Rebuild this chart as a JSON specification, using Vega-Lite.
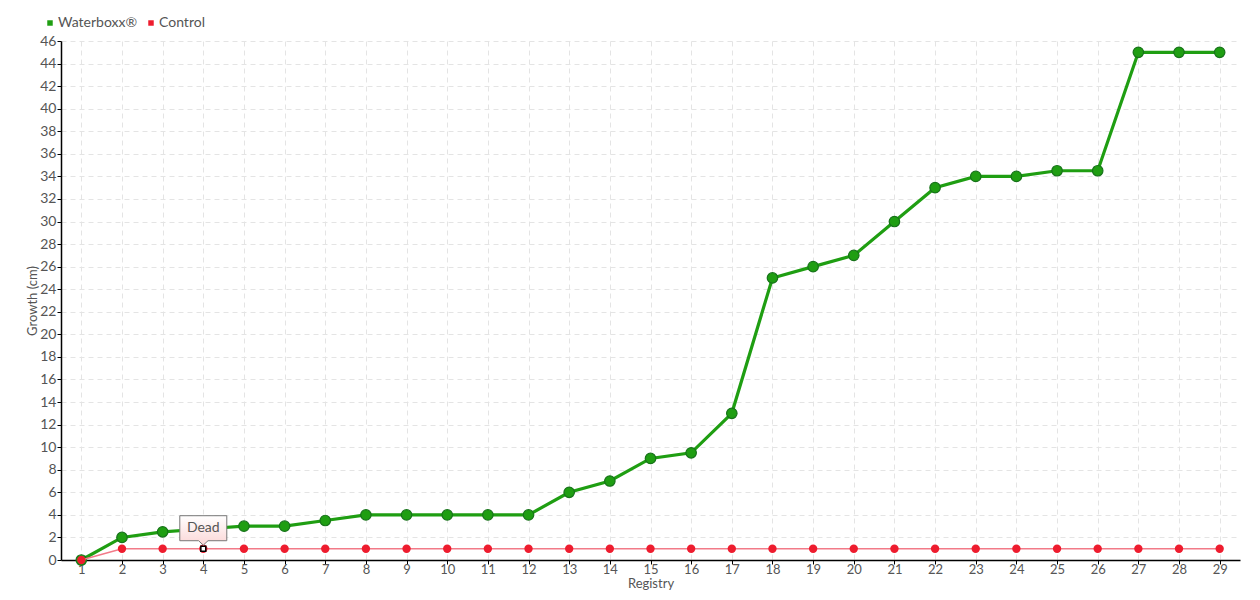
{
  "$schema": "https://vega.github.io/schema/vega-lite/v6.json",
  "width": 1179,
  "height": 519,
  "autosize": {"type": "none"},
  "padding": {"left": 61, "top": 41, "right": 20, "bottom": 40},
  "background": "white",
  "config": {
    "view": {"stroke": null},
    "font": "Lato",
    "axis": {
      "labelFont": "Lato",
      "titleFont": "Lato",
      "labelColor": "#555555",
      "titleColor": "#555555",
      "labelFontSize": 14,
      "titleFontSize": 14,
      "titleFontWeight": "normal",
      "domainColor": "#000000",
      "domainWidth": 1.5,
      "tickColor": "#000000",
      "tickSize": 4,
      "gridColor": "#e4e4e4",
      "gridDash": [5, 4],
      "gridWidth": 1
    },
    "legend": {
      "labelFont": "Lato",
      "labelFontSize": 14,
      "labelColor": "#555555"
    }
  },
  "datasets": {
    "growth": [
      {"Registry": 1, "Growth": 0, "Series": "Waterboxx®", "Status": "Alive"},
      {"Registry": 2, "Growth": 2, "Series": "Waterboxx®", "Status": "Alive"},
      {"Registry": 3, "Growth": 2.5, "Series": "Waterboxx®", "Status": "Alive"},
      {"Registry": 4, "Growth": 2.75, "Series": "Waterboxx®", "Status": "Alive"},
      {"Registry": 5, "Growth": 3, "Series": "Waterboxx®", "Status": "Alive"},
      {"Registry": 6, "Growth": 3, "Series": "Waterboxx®", "Status": "Alive"},
      {"Registry": 7, "Growth": 3.5, "Series": "Waterboxx®", "Status": "Alive"},
      {"Registry": 8, "Growth": 4, "Series": "Waterboxx®", "Status": "Alive"},
      {"Registry": 9, "Growth": 4, "Series": "Waterboxx®", "Status": "Alive"},
      {"Registry": 10, "Growth": 4, "Series": "Waterboxx®", "Status": "Alive"},
      {"Registry": 11, "Growth": 4, "Series": "Waterboxx®", "Status": "Alive"},
      {"Registry": 12, "Growth": 4, "Series": "Waterboxx®", "Status": "Alive"},
      {"Registry": 13, "Growth": 6, "Series": "Waterboxx®", "Status": "Alive"},
      {"Registry": 14, "Growth": 7, "Series": "Waterboxx®", "Status": "Alive"},
      {"Registry": 15, "Growth": 9, "Series": "Waterboxx®", "Status": "Alive"},
      {"Registry": 16, "Growth": 9.5, "Series": "Waterboxx®", "Status": "Alive"},
      {"Registry": 17, "Growth": 13, "Series": "Waterboxx®", "Status": "Alive"},
      {"Registry": 18, "Growth": 25, "Series": "Waterboxx®", "Status": "Alive"},
      {"Registry": 19, "Growth": 26, "Series": "Waterboxx®", "Status": "Alive"},
      {"Registry": 20, "Growth": 27, "Series": "Waterboxx®", "Status": "Alive"},
      {"Registry": 21, "Growth": 30, "Series": "Waterboxx®", "Status": "Alive"},
      {"Registry": 22, "Growth": 33, "Series": "Waterboxx®", "Status": "Alive"},
      {"Registry": 23, "Growth": 34, "Series": "Waterboxx®", "Status": "Alive"},
      {"Registry": 24, "Growth": 34, "Series": "Waterboxx®", "Status": "Alive"},
      {"Registry": 25, "Growth": 34.5, "Series": "Waterboxx®", "Status": "Alive"},
      {"Registry": 26, "Growth": 34.5, "Series": "Waterboxx®", "Status": "Alive"},
      {"Registry": 27, "Growth": 45, "Series": "Waterboxx®", "Status": "Alive"},
      {"Registry": 28, "Growth": 45, "Series": "Waterboxx®", "Status": "Alive"},
      {"Registry": 29, "Growth": 45, "Series": "Waterboxx®", "Status": "Alive"},
      {"Registry": 1, "Growth": 0, "Series": "Control", "Status": "Alive"},
      {"Registry": 2, "Growth": 1, "Series": "Control", "Status": "Alive"},
      {"Registry": 3, "Growth": 1, "Series": "Control", "Status": "Alive"},
      {"Registry": 4, "Growth": 1, "Series": "Control", "Status": "Dead"},
      {"Registry": 5, "Growth": 1, "Series": "Control", "Status": "Alive"},
      {"Registry": 6, "Growth": 1, "Series": "Control", "Status": "Alive"},
      {"Registry": 7, "Growth": 1, "Series": "Control", "Status": "Alive"},
      {"Registry": 8, "Growth": 1, "Series": "Control", "Status": "Alive"},
      {"Registry": 9, "Growth": 1, "Series": "Control", "Status": "Alive"},
      {"Registry": 10, "Growth": 1, "Series": "Control", "Status": "Alive"},
      {"Registry": 11, "Growth": 1, "Series": "Control", "Status": "Alive"},
      {"Registry": 12, "Growth": 1, "Series": "Control", "Status": "Alive"},
      {"Registry": 13, "Growth": 1, "Series": "Control", "Status": "Alive"},
      {"Registry": 14, "Growth": 1, "Series": "Control", "Status": "Alive"},
      {"Registry": 15, "Growth": 1, "Series": "Control", "Status": "Alive"},
      {"Registry": 16, "Growth": 1, "Series": "Control", "Status": "Alive"},
      {"Registry": 17, "Growth": 1, "Series": "Control", "Status": "Alive"},
      {"Registry": 18, "Growth": 1, "Series": "Control", "Status": "Alive"},
      {"Registry": 19, "Growth": 1, "Series": "Control", "Status": "Alive"},
      {"Registry": 20, "Growth": 1, "Series": "Control", "Status": "Alive"},
      {"Registry": 21, "Growth": 1, "Series": "Control", "Status": "Alive"},
      {"Registry": 22, "Growth": 1, "Series": "Control", "Status": "Alive"},
      {"Registry": 23, "Growth": 1, "Series": "Control", "Status": "Alive"},
      {"Registry": 24, "Growth": 1, "Series": "Control", "Status": "Alive"},
      {"Registry": 25, "Growth": 1, "Series": "Control", "Status": "Alive"},
      {"Registry": 26, "Growth": 1, "Series": "Control", "Status": "Alive"},
      {"Registry": 27, "Growth": 1, "Series": "Control", "Status": "Alive"},
      {"Registry": 28, "Growth": 1, "Series": "Control", "Status": "Alive"},
      {"Registry": 29, "Growth": 1, "Series": "Control", "Status": "Alive"}
    ],
    "notes": [
      {"Registry": 4, "Growth": 1, "Label": "Dead"}
    ]
  },
  "data": {"name": "growth"},
  "encoding": {
    "x": {
      "field": "Registry",
      "type": "ordinal",
      "scale": {"type": "point", "padding": 0.5},
      "axis": {
        "labelAngle": 0,
        "grid": true,
        "title": "Registry",
        "titlePadding": 1,
        "labelPadding": -1,
        "labelFontSize": 13,
        "titleFontSize": 13
      }
    },
    "y": {
      "field": "Growth",
      "type": "quantitative",
      "scale": {"domain": [0, 46], "nice": false},
      "axis": {
        "values": [0,2,4,6,8,10,12,14,16,18,20,22,24,26,28,30,32,34,36,38,40,42,44,46],
        "title": "Growth (cm)",
        "grid": true,
        "titlePadding": 0,
        "labelPadding": 1,
        "titleFontSize": 13
      }
    }
  },
  "layer": [
    {
      "transform": [{"filter": "datum.Series === 'Waterboxx®'"}],
      "mark": {"type": "line", "strokeWidth": 3.2},
      "encoding": {
        "color": {
          "field": "Series",
          "type": "nominal",
          "scale": {"domain": ["Waterboxx®", "Control"], "range": ["#1f9e12", "#ee1c2e"]},
          "legend": {
            "title": null,
            "orient": "none",
            "legendX": -18,
            "legendY": -25,
            "direction": "horizontal",
            "symbolType": "square",
            "symbolSize": 30,
            "symbolStrokeWidth": 0,
            "columnPadding": 6,
            "labelOffset": 1
          }
        }
      }
    },
    {
      "transform": [{"filter": "datum.Series === 'Waterboxx®'"}],
      "mark": {"type": "point", "filled": true, "size": 110, "stroke": "#17731a", "strokeWidth": 1.2, "opacity": 1},
      "encoding": {
        "color": {"field": "Series", "type": "nominal"}
      }
    },
    {
      "transform": [{"filter": "datum.Series === 'Control'"}],
      "mark": {"type": "line", "strokeWidth": 1.5, "stroke": "#f27a88"},
      "encoding": {}
    },
    {
      "transform": [{"filter": "datum.Series === 'Control'"}],
      "mark": {"type": "point", "filled": true, "size": 70, "strokeWidth": 0, "opacity": 1},
      "encoding": {
        "color": {"field": "Series", "type": "nominal"}
      }
    },
    {
      "transform": [{"filter": "datum.Status === 'Dead'"}],
      "mark": {"type": "point", "shape": "square", "filled": true, "size": 24, "fill": "#ffffff", "stroke": "#000000", "strokeWidth": 1.5, "opacity": 1},
      "encoding": {}
    },
    {
      "data": {"name": "notes"},
      "mark": {
        "type": "point",
        "shape": "M-1,-0.532H1V0.532H0.2L0,0.72L-0.2,0.532H-1Z",
        "size": 2209,
        "filled": true,
        "opacity": 1,
        "fill": {
          "gradient": "linear",
          "x1": 0, "y1": 0, "x2": 0, "y2": 1,
          "stops": [{"offset": 0, "color": "#ffffff"}, {"offset": 1, "color": "#fbd6d6"}]
        },
        "stroke": "#777777",
        "strokeWidth": 1,
        "yOffset": -20.5
      },
      "encoding": {}
    },
    {
      "data": {"name": "notes"},
      "mark": {"type": "text", "fontSize": 14, "font": "Lato", "color": "#555555", "yOffset": -21, "align": "center", "baseline": "middle"},
      "encoding": {"text": {"field": "Label"}}
    }
  ]
}
